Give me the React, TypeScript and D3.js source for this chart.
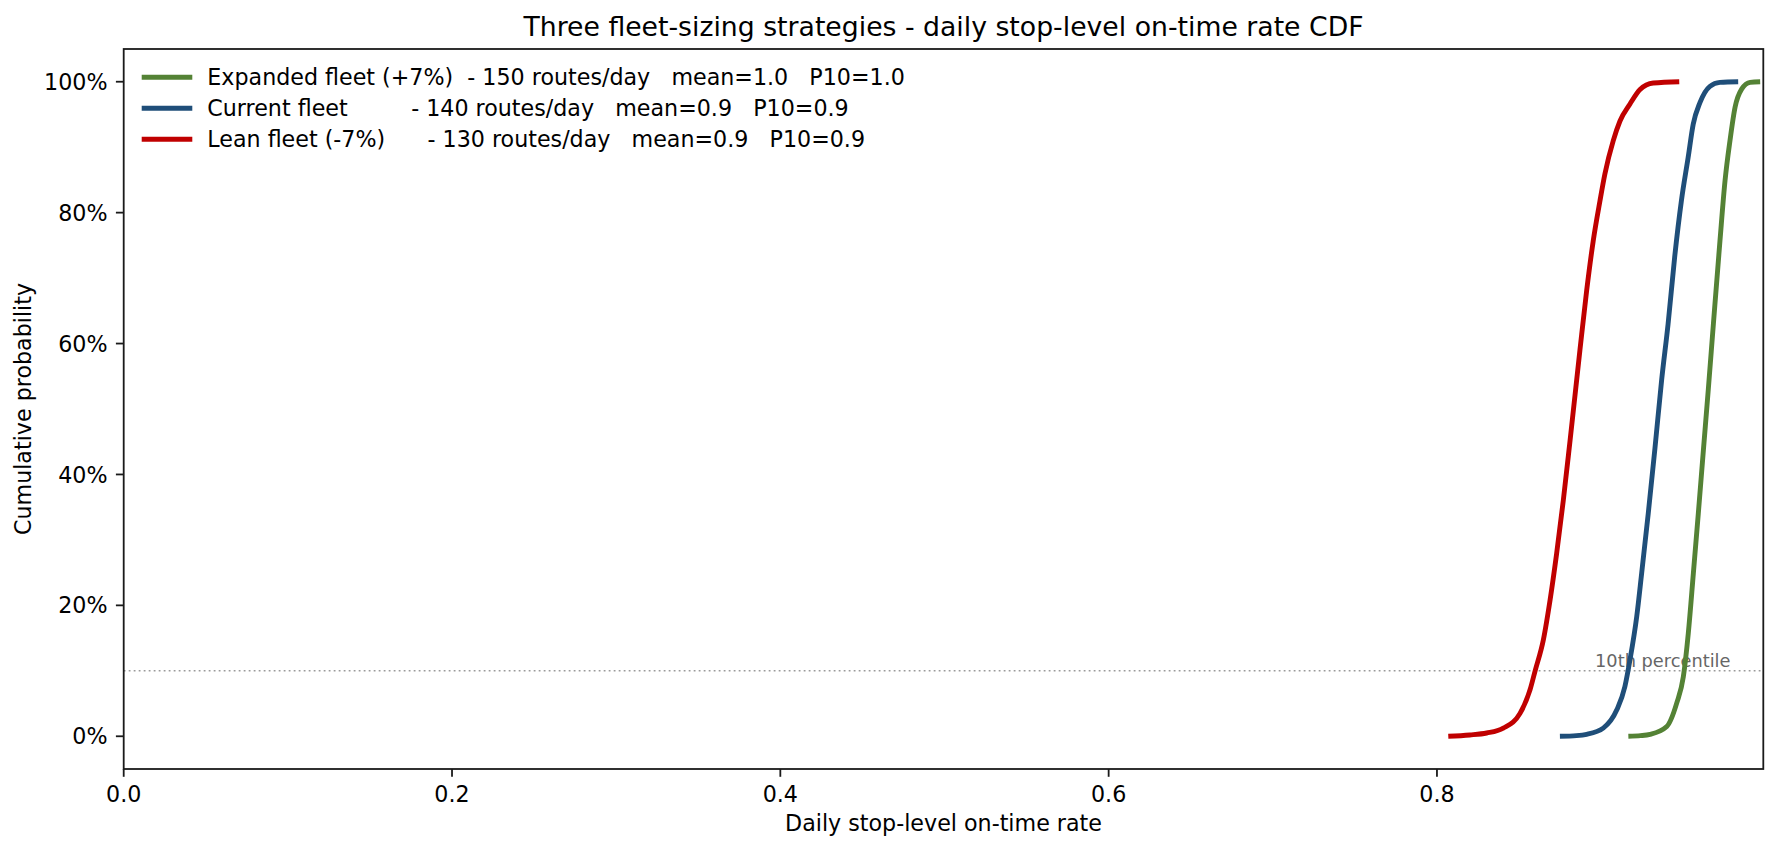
import React from 'react';
import * as d3 from 'd3';

const leanRate = [0.8069, 0.82, 0.8303, 0.8404, 0.8506, 0.8567, 0.8598, 0.8648, 0.8689, 0.8729, 0.877, 0.881, 0.8871, 0.8912, 0.8952, 0.8993, 0.9023, 0.9074, 0.9115, 0.9176, 0.9237, 0.9318, 0.9476];
const leanP = [0, 0.002, 0.005, 0.0125, 0.035, 0.071, 0.1, 0.147, 0.208, 0.279, 0.361, 0.45, 0.59, 0.681, 0.757, 0.818, 0.859, 0.91, 0.94, 0.966, 0.988, 0.998, 1.0];

const currentRate = [0.8749, 0.885, 0.8912, 0.9013, 0.9095, 0.9145, 0.9176, 0.9217, 0.9247, 0.9287, 0.9328, 0.9369, 0.9408, 0.9448, 0.9489, 0.953, 0.9561, 0.9602, 0.9663, 0.9724, 0.9835];
const currentP = [0, 0.001, 0.003, 0.0125, 0.04, 0.076, 0.117, 0.183, 0.249, 0.34, 0.44, 0.545, 0.63, 0.732, 0.818, 0.884, 0.935, 0.968, 0.993, 0.999, 1.0];

const expandedRate = [0.9166, 0.924, 0.9298, 0.94, 0.9461, 0.9501, 0.9531, 0.9562, 0.9592, 0.9623, 0.9653, 0.9684, 0.9724, 0.9755, 0.9785, 0.9816, 0.9857, 0.9908, 0.9969];
const expandedP = [0, 0.001, 0.003, 0.015, 0.051, 0.091, 0.157, 0.249, 0.34, 0.437, 0.53, 0.63, 0.757, 0.849, 0.91, 0.961, 0.989, 0.999, 1.0];

const seriesNames = ['Expanded fleet (+7%)', 'Current fleet', 'Lean fleet (-7%)'];
const seriesRoutes = [150, 140, 130];
const seriesMean = ['1.0', '0.9', '0.9'];
const seriesP10 = ['1.0', '0.9', '0.9'];
const seriesColors = ['#548235', '#1f4e79', '#c00000'];

const xTicks = [0, 0.2, 0.4, 0.6, 0.8];
const yTicks = [0, 0.2, 0.4, 0.6, 0.8, 1.0];
const p10Level = 0.1;

const W = 1778;
const H = 850;
const margin = { left: 123.7, right: 1763.3, top: 49, bottom: 769 };
const FONT = 'DejaVu Sans, sans-serif';

export default function App() {
  const x = d3.scaleLinear().domain([0, 0.9988]).range([margin.left, margin.right]);
  const y = d3.scaleLinear().domain([-0.05, 1.05]).range([margin.bottom, margin.top]);

  const line = d3
    .line<[number, number]>()
    .x((d) => x(d[0]))
    .y((d) => y(d[1]))
    .curve(d3.curveMonotoneX);

  const series = [
    { rate: expandedRate, p: expandedP },
    { rate: currentRate, p: currentP },
    { rate: leanRate, p: leanP },
  ];

  const labels = seriesNames.map(
    (n, i) => `${n.padEnd(20)}  - ${seriesRoutes[i]} routes/day   mean=${seriesMean[i]}   P10=${seriesP10[i]}`,
  );

  const cx = (margin.left + margin.right) / 2;
  const cy = (margin.top + margin.bottom) / 2;

  return (
    <svg
      width={W}
      height={H}
      style={{ position: 'absolute', left: 0, top: 0, background: '#fff' }}
      fontFamily={FONT}
    >
      <rect x={0} y={0} width={W} height={H} fill="#fff" />

      {/* 10th percentile reference */}
      <line
        x1={margin.left}
        x2={margin.right}
        y1={y(p10Level)}
        y2={y(p10Level)}
        stroke="#999"
        strokeWidth={1.6}
        strokeDasharray="1.8,3.2"
      />
      <text
        x={margin.right - 0.02 * (margin.right - margin.left)}
        y={y(p10Level) - 3.5}
        textAnchor="end"
        fontSize={17.8}
        fill="#666"
      >
        10th percentile
      </text>

      {/* CDF curves, drawn lean first */}
      {series
        .slice()
        .reverse()
        .map((s, ri) => {
          const i = series.length - 1 - ri;
          const pts = s.rate.map((r, k) => [r, s.p[k]] as [number, number]);
          return (
            <path
              key={i}
              d={line(pts) || ''}
              fill="none"
              stroke={seriesColors[i]}
              strokeWidth={4.9}
              strokeLinejoin="round"
            />
          );
        })}

      {/* axes frame */}
      <rect
        x={margin.left}
        y={margin.top}
        width={margin.right - margin.left}
        height={margin.bottom - margin.top}
        fill="none"
        stroke="#1a1a1a"
        strokeWidth={1.8}
      />

      {/* x ticks */}
      {xTicks.map((t) => (
        <g key={t}>
          <line x1={x(t)} x2={x(t)} y1={margin.bottom} y2={margin.bottom + 7.8} stroke="#1a1a1a" strokeWidth={1.8} />
          <text x={x(t)} y={801.7} textAnchor="middle" fontSize={22.2} fill="#000">
            {d3.format('.1f')(t)}
          </text>
        </g>
      ))}

      {/* y ticks */}
      {yTicks.map((t) => (
        <g key={t}>
          <line x1={margin.left - 7.8} x2={margin.left} y1={y(t)} y2={y(t)} stroke="#1a1a1a" strokeWidth={1.8} />
          <text x={107.5} y={y(t)} dy="0.365em" textAnchor="end" fontSize={22.2} fill="#000">
            {d3.format('.0%')(t)}
          </text>
        </g>
      ))}

      {/* axis labels and title */}
      <text x={cx} y={831} textAnchor="middle" fontSize={22.2} fill="#000">
        Daily stop-level on-time rate
      </text>
      <text
        transform={`translate(30.5,${cy}) rotate(-90)`}
        textAnchor="middle"
        fontSize={22.2}
        fill="#000"
      >
        Cumulative probability
      </text>
      <text x={cx} y={36} textAnchor="middle" fontSize={26.7} fill="#000">
        Three fleet-sizing strategies - daily stop-level on-time rate CDF
      </text>

      {/* legend */}
      {labels.map((lab, i) => {
        const ly = 77.3 + i * 31;
        return (
          <g key={lab}>
            <line x1={141.7} x2={192.3} y1={ly} y2={ly} stroke={seriesColors[i]} strokeWidth={4.9} />
            <text x={207.3} y={ly} dy="0.365em" fontSize={22.2} fill="#000" style={{ whiteSpace: 'pre' }}>
              {lab}
            </text>
          </g>
        );
      })}
    </svg>
  );
}
